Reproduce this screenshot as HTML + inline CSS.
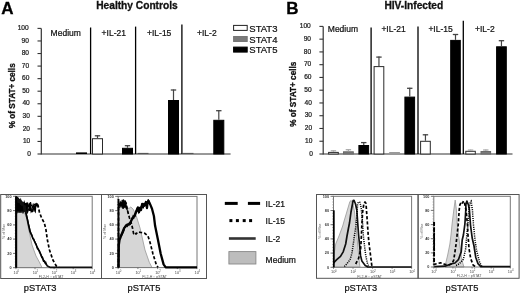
<!DOCTYPE html>
<html><head><meta charset="utf-8"><style>
html,body{margin:0;padding:0;background:#fff;}
body{width:520px;height:294px;overflow:hidden;font-family:"Liberation Sans",sans-serif;}
svg{display:block;filter:blur(0.35px);}
</style></head><body>
<svg width="520" height="294" viewBox="0 0 520 294">
<rect width="520" height="294" fill="#fff"/>
<text stroke="#000" stroke-width="0.3" x="1.2" y="14.2" font-family="Liberation Sans, sans-serif" font-weight="bold" font-size="17" fill="#000">A</text>
<text stroke="#000" stroke-width="0.3" x="286.2" y="14.2" font-family="Liberation Sans, sans-serif" font-weight="bold" font-size="17" fill="#000">B</text>
<text stroke="#111" stroke-width="0.3" x="96.2" y="8.7" font-family="Liberation Sans, sans-serif" font-weight="bold" font-size="10.2" fill="#111">Healthy Controls</text>
<text stroke="#111" stroke-width="0.3" x="384.4" y="8.7" font-family="Liberation Sans, sans-serif" font-weight="bold" font-size="10.2" fill="#111">HIV-Infected</text>
<line x1="41.3" y1="28.4" x2="41.3" y2="154.5" stroke="#333" stroke-width="1.2"/>
<line x1="37.5" y1="154.00" x2="41.3" y2="154.00" stroke="#333" stroke-width="1.1"/>
<text stroke="#1a1a1a" stroke-width="0.22" x="30.90" y="155.70" font-family="Liberation Sans, sans-serif" font-size="6.6" text-anchor="end" fill="#1a1a1a">0</text>
<line x1="37.5" y1="141.44" x2="41.3" y2="141.44" stroke="#333" stroke-width="1.1"/>
<text stroke="#1a1a1a" stroke-width="0.22" x="30.23" y="143.14" font-family="Liberation Sans, sans-serif" font-size="6.6" text-anchor="end" fill="#1a1a1a">10</text>
<line x1="37.5" y1="128.88" x2="41.3" y2="128.88" stroke="#333" stroke-width="1.1"/>
<text stroke="#1a1a1a" stroke-width="0.22" x="30.06" y="130.58" font-family="Liberation Sans, sans-serif" font-size="6.6" text-anchor="end" fill="#1a1a1a">20</text>
<line x1="37.5" y1="116.32" x2="41.3" y2="116.32" stroke="#333" stroke-width="1.1"/>
<text stroke="#1a1a1a" stroke-width="0.22" x="29.89" y="118.02" font-family="Liberation Sans, sans-serif" font-size="6.6" text-anchor="end" fill="#1a1a1a">30</text>
<line x1="37.5" y1="103.76" x2="41.3" y2="103.76" stroke="#333" stroke-width="1.1"/>
<text stroke="#1a1a1a" stroke-width="0.22" x="29.72" y="105.46" font-family="Liberation Sans, sans-serif" font-size="6.6" text-anchor="end" fill="#1a1a1a">40</text>
<line x1="37.5" y1="91.20" x2="41.3" y2="91.20" stroke="#333" stroke-width="1.1"/>
<text stroke="#1a1a1a" stroke-width="0.22" x="29.55" y="92.90" font-family="Liberation Sans, sans-serif" font-size="6.6" text-anchor="end" fill="#1a1a1a">50</text>
<line x1="37.5" y1="78.64" x2="41.3" y2="78.64" stroke="#333" stroke-width="1.1"/>
<text stroke="#1a1a1a" stroke-width="0.22" x="29.38" y="80.34" font-family="Liberation Sans, sans-serif" font-size="6.6" text-anchor="end" fill="#1a1a1a">60</text>
<line x1="37.5" y1="66.08" x2="41.3" y2="66.08" stroke="#333" stroke-width="1.1"/>
<text stroke="#1a1a1a" stroke-width="0.22" x="29.21" y="67.78" font-family="Liberation Sans, sans-serif" font-size="6.6" text-anchor="end" fill="#1a1a1a">70</text>
<line x1="37.5" y1="53.52" x2="41.3" y2="53.52" stroke="#333" stroke-width="1.1"/>
<text stroke="#1a1a1a" stroke-width="0.22" x="29.04" y="55.22" font-family="Liberation Sans, sans-serif" font-size="6.6" text-anchor="end" fill="#1a1a1a">80</text>
<line x1="37.5" y1="40.96" x2="41.3" y2="40.96" stroke="#333" stroke-width="1.1"/>
<text stroke="#1a1a1a" stroke-width="0.22" x="28.87" y="42.66" font-family="Liberation Sans, sans-serif" font-size="6.6" text-anchor="end" fill="#1a1a1a">90</text>
<line x1="37.5" y1="28.40" x2="41.3" y2="28.40" stroke="#333" stroke-width="1.1"/>
<text stroke="#1a1a1a" stroke-width="0.22" x="28.70" y="30.10" font-family="Liberation Sans, sans-serif" font-size="6.6" text-anchor="end" fill="#1a1a1a">100</text>
<line x1="41.3" y1="154.0" x2="230.6" y2="154.0" stroke="#333" stroke-width="1.1"/>
<line x1="90.6" y1="27.5" x2="90.6" y2="154.0" stroke="#000" stroke-width="1.3"/>
<line x1="135.6" y1="26.6" x2="135.6" y2="154.0" stroke="#000" stroke-width="1.3"/>
<line x1="181.9" y1="24.5" x2="181.9" y2="154.0" stroke="#000" stroke-width="1.3"/>
<text stroke="#111" stroke-width="0.22" x="50.6" y="36.3" font-family="Liberation Sans, sans-serif" font-size="8.5" fill="#111">Medium</text>
<text stroke="#111" stroke-width="0.22" x="101.6" y="36.3" font-family="Liberation Sans, sans-serif" font-size="8.5" fill="#111">+IL-21</text>
<text stroke="#111" stroke-width="0.22" x="147.0" y="36.3" font-family="Liberation Sans, sans-serif" font-size="8.5" fill="#111">+IL-15</text>
<text stroke="#111" stroke-width="0.22" x="197.0" y="36.3" font-family="Liberation Sans, sans-serif" font-size="8.5" fill="#111">+IL-2</text>
<rect x="76" y="152.4" width="11" height="1.5999999999999943" fill="#000"/>
<rect x="92.5" y="138.7" width="10" height="15.300000000000011" fill="#fff" stroke="#2a2a2a" stroke-width="1"/>
<line x1="97.5" y1="135.3" x2="97.5" y2="138.2" stroke="#444" stroke-width="1.2"/>
<line x1="94.8" y1="135.8" x2="100.2" y2="135.8" stroke="#444" stroke-width="1.3"/>
<rect x="122.5" y="148.3" width="10" height="5.699999999999989" fill="#000" stroke="#000" stroke-width="1"/>
<line x1="127.5" y1="145.2" x2="127.5" y2="147.8" stroke="#444" stroke-width="1.2"/>
<line x1="124.8" y1="145.7" x2="130.2" y2="145.7" stroke="#444" stroke-width="1.3"/>
<rect x="137.5" y="152.9" width="11" height="1.0999999999999943" fill="#555"/>
<rect x="168.5" y="100.5" width="10" height="53.5" fill="#000" stroke="#000" stroke-width="1"/>
<line x1="173.5" y1="89.5" x2="173.5" y2="100.0" stroke="#444" stroke-width="1.2"/>
<line x1="170.8" y1="90.0" x2="176.2" y2="90.0" stroke="#444" stroke-width="1.3"/>
<rect x="183" y="152.9" width="10.5" height="1.0999999999999943" fill="#555"/>
<rect x="197" y="153.3" width="11" height="0.6999999999999886" fill="#9a9a9a"/>
<rect x="213.8" y="120.3" width="10" height="33.7" fill="#000" stroke="#000" stroke-width="1"/>
<line x1="218.8" y1="110.2" x2="218.8" y2="119.8" stroke="#444" stroke-width="1.2"/>
<line x1="216.10000000000002" y1="110.7" x2="221.5" y2="110.7" stroke="#444" stroke-width="1.3"/>
<text stroke="#111" stroke-width="0.3" x="0" y="0" transform="translate(14.6,95.8) rotate(-90)" font-family="Liberation Sans, sans-serif" font-weight="bold" font-size="8.2" text-anchor="middle" fill="#111">% of STAT+ cells</text>
<line x1="323.2" y1="26.4" x2="323.2" y2="154.5" stroke="#333" stroke-width="1.2"/>
<line x1="319.4" y1="154.00" x2="323.2" y2="154.00" stroke="#333" stroke-width="1.1"/>
<text stroke="#1a1a1a" stroke-width="0.22" x="313.00" y="155.70" font-family="Liberation Sans, sans-serif" font-size="6.6" text-anchor="end" fill="#1a1a1a">0</text>
<line x1="319.4" y1="141.24" x2="323.2" y2="141.24" stroke="#333" stroke-width="1.1"/>
<text stroke="#1a1a1a" stroke-width="0.22" x="312.33" y="142.94" font-family="Liberation Sans, sans-serif" font-size="6.6" text-anchor="end" fill="#1a1a1a">10</text>
<line x1="319.4" y1="128.48" x2="323.2" y2="128.48" stroke="#333" stroke-width="1.1"/>
<text stroke="#1a1a1a" stroke-width="0.22" x="312.16" y="130.18" font-family="Liberation Sans, sans-serif" font-size="6.6" text-anchor="end" fill="#1a1a1a">20</text>
<line x1="319.4" y1="115.72" x2="323.2" y2="115.72" stroke="#333" stroke-width="1.1"/>
<text stroke="#1a1a1a" stroke-width="0.22" x="311.99" y="117.42" font-family="Liberation Sans, sans-serif" font-size="6.6" text-anchor="end" fill="#1a1a1a">30</text>
<line x1="319.4" y1="102.96" x2="323.2" y2="102.96" stroke="#333" stroke-width="1.1"/>
<text stroke="#1a1a1a" stroke-width="0.22" x="311.82" y="104.66" font-family="Liberation Sans, sans-serif" font-size="6.6" text-anchor="end" fill="#1a1a1a">40</text>
<line x1="319.4" y1="90.20" x2="323.2" y2="90.20" stroke="#333" stroke-width="1.1"/>
<text stroke="#1a1a1a" stroke-width="0.22" x="311.65" y="91.90" font-family="Liberation Sans, sans-serif" font-size="6.6" text-anchor="end" fill="#1a1a1a">50</text>
<line x1="319.4" y1="77.44" x2="323.2" y2="77.44" stroke="#333" stroke-width="1.1"/>
<text stroke="#1a1a1a" stroke-width="0.22" x="311.48" y="79.14" font-family="Liberation Sans, sans-serif" font-size="6.6" text-anchor="end" fill="#1a1a1a">60</text>
<line x1="319.4" y1="64.68" x2="323.2" y2="64.68" stroke="#333" stroke-width="1.1"/>
<text stroke="#1a1a1a" stroke-width="0.22" x="311.31" y="66.38" font-family="Liberation Sans, sans-serif" font-size="6.6" text-anchor="end" fill="#1a1a1a">70</text>
<line x1="319.4" y1="51.92" x2="323.2" y2="51.92" stroke="#333" stroke-width="1.1"/>
<text stroke="#1a1a1a" stroke-width="0.22" x="311.14" y="53.62" font-family="Liberation Sans, sans-serif" font-size="6.6" text-anchor="end" fill="#1a1a1a">80</text>
<line x1="319.4" y1="39.16" x2="323.2" y2="39.16" stroke="#333" stroke-width="1.1"/>
<text stroke="#1a1a1a" stroke-width="0.22" x="310.97" y="40.86" font-family="Liberation Sans, sans-serif" font-size="6.6" text-anchor="end" fill="#1a1a1a">90</text>
<line x1="319.4" y1="26.40" x2="323.2" y2="26.40" stroke="#333" stroke-width="1.1"/>
<text stroke="#1a1a1a" stroke-width="0.22" x="310.80" y="28.10" font-family="Liberation Sans, sans-serif" font-size="6.6" text-anchor="end" fill="#1a1a1a">100</text>
<line x1="323.2" y1="154.0" x2="512.5" y2="154.0" stroke="#333" stroke-width="1.1"/>
<line x1="371.1" y1="27.6" x2="371.1" y2="154.0" stroke="#000" stroke-width="1.3"/>
<line x1="418.0" y1="26.6" x2="418.0" y2="154.0" stroke="#000" stroke-width="1.3"/>
<line x1="463.3" y1="20.7" x2="463.3" y2="154.0" stroke="#000" stroke-width="1.3"/>
<text stroke="#111" stroke-width="0.22" x="327.8" y="32.2" font-family="Liberation Sans, sans-serif" font-size="8.5" fill="#111">Medium</text>
<text stroke="#111" stroke-width="0.22" x="381.4" y="32.2" font-family="Liberation Sans, sans-serif" font-size="8.5" fill="#111">+IL-21</text>
<text stroke="#111" stroke-width="0.22" x="428.4" y="32.2" font-family="Liberation Sans, sans-serif" font-size="8.5" fill="#111">+IL-15</text>
<text stroke="#111" stroke-width="0.22" x="475.0" y="32.2" font-family="Liberation Sans, sans-serif" font-size="8.5" fill="#111">+IL-2</text>
<rect x="328.6" y="152.4" width="9.7" height="1.5999999999999943" fill="#fff" stroke="#2a2a2a" stroke-width="1"/>
<line x1="333.45000000000005" y1="150.3" x2="333.45000000000005" y2="151.9" stroke="#aaa" stroke-width="1.2"/>
<line x1="330.75000000000006" y1="150.8" x2="336.15000000000003" y2="150.8" stroke="#aaa" stroke-width="1.3"/>
<rect x="343.5" y="151.8" width="9.8" height="2.1999999999999886" fill="#7a7a7a" stroke="#6a6a6a" stroke-width="1"/>
<line x1="348.4" y1="149.2" x2="348.4" y2="151.3" stroke="#aaa" stroke-width="1.2"/>
<line x1="345.7" y1="149.7" x2="351.09999999999997" y2="149.7" stroke="#aaa" stroke-width="1.3"/>
<rect x="358.9" y="145.5" width="9.7" height="8.5" fill="#000" stroke="#000" stroke-width="1"/>
<line x1="363.75" y1="142.1" x2="363.75" y2="145.0" stroke="#444" stroke-width="1.2"/>
<line x1="361.05" y1="142.6" x2="366.45" y2="142.6" stroke="#444" stroke-width="1.3"/>
<rect x="374.1" y="66.6" width="9.7" height="87.4" fill="#fff" stroke="#2a2a2a" stroke-width="1"/>
<line x1="378.95000000000005" y1="56.6" x2="378.95000000000005" y2="66.1" stroke="#444" stroke-width="1.2"/>
<line x1="376.25000000000006" y1="57.1" x2="381.65000000000003" y2="57.1" stroke="#444" stroke-width="1.3"/>
<rect x="389.2" y="152.0" width="10.7" height="2.0" fill="#9a9a9a"/>
<rect x="404.9" y="97.1" width="9.7" height="56.900000000000006" fill="#000" stroke="#000" stroke-width="1"/>
<line x1="409.75" y1="87.8" x2="409.75" y2="96.6" stroke="#444" stroke-width="1.2"/>
<line x1="407.05" y1="88.3" x2="412.45" y2="88.3" stroke="#444" stroke-width="1.3"/>
<rect x="420.6" y="141.3" width="9.7" height="12.699999999999989" fill="#fff" stroke="#2a2a2a" stroke-width="1"/>
<line x1="425.45000000000005" y1="134.3" x2="425.45000000000005" y2="140.8" stroke="#444" stroke-width="1.2"/>
<line x1="422.75000000000006" y1="134.8" x2="428.15000000000003" y2="134.8" stroke="#444" stroke-width="1.3"/>
<rect x="434.9" y="153.0" width="10.7" height="1.0" fill="#9a9a9a"/>
<rect x="450.7" y="40.4" width="9.6" height="113.6" fill="#000" stroke="#000" stroke-width="1"/>
<line x1="455.5" y1="34.0" x2="455.5" y2="39.9" stroke="#444" stroke-width="1.2"/>
<line x1="452.8" y1="34.5" x2="458.2" y2="34.5" stroke="#444" stroke-width="1.3"/>
<rect x="465.8" y="151.3" width="9.5" height="2.6999999999999886" fill="#fff" stroke="#2a2a2a" stroke-width="1"/>
<line x1="470.55" y1="149.6" x2="470.55" y2="150.8" stroke="#aaa" stroke-width="1.2"/>
<line x1="467.85" y1="150.1" x2="473.25" y2="150.1" stroke="#aaa" stroke-width="1.3"/>
<rect x="481.0" y="151.5" width="9.6" height="2.5" fill="#7a7a7a" stroke="#6a6a6a" stroke-width="1"/>
<line x1="485.8" y1="149.5" x2="485.8" y2="151.0" stroke="#aaa" stroke-width="1.2"/>
<line x1="483.1" y1="150.0" x2="488.5" y2="150.0" stroke="#aaa" stroke-width="1.3"/>
<rect x="496.6" y="46.8" width="9.7" height="107.2" fill="#000" stroke="#000" stroke-width="1"/>
<line x1="501.45000000000005" y1="40.2" x2="501.45000000000005" y2="46.3" stroke="#444" stroke-width="1.2"/>
<line x1="498.75000000000006" y1="40.7" x2="504.15000000000003" y2="40.7" stroke="#444" stroke-width="1.3"/>
<text stroke="#111" stroke-width="0.3" x="0" y="0" transform="translate(296.0,94.2) rotate(-90)" font-family="Liberation Sans, sans-serif" font-weight="bold" font-size="8.2" text-anchor="middle" fill="#111">% of STAT+ cells</text>
<rect x="233.6" y="25.4" width="13.6" height="5.0" fill="#fff" stroke="#222" stroke-width="1"/>
<text stroke="#111" stroke-width="0.22" x="249.3" y="31.5" font-family="Liberation Sans, sans-serif" font-size="9.5" fill="#111">STAT3</text>
<rect x="233.6" y="36.5" width="13.6" height="5.0" fill="#7a7a7a" stroke="#777" stroke-width="1"/>
<text stroke="#111" stroke-width="0.22" x="249.3" y="42.6" font-family="Liberation Sans, sans-serif" font-size="9.5" fill="#111">STAT4</text>
<rect x="233.6" y="47.1" width="13.6" height="5.0" fill="#000" stroke="#000" stroke-width="1"/>
<text stroke="#111" stroke-width="0.22" x="249.3" y="53.2" font-family="Liberation Sans, sans-serif" font-size="9.5" fill="#111">STAT5</text>
<rect x="0.7" y="194.5" width="100.8" height="84" fill="none" stroke="#555" stroke-width="1"/>
<polygon points="16.5,267.5 16.5,205.0 20.0,208.0 24.0,212.0 26.5,218.0 28.0,226.0 32.0,245.0 36.0,256.0 39.3,262.0 42.0,267.5" fill="#d6d6d6" stroke="#a0a0a0" stroke-width="0.9"/>
<rect x="16" y="196.3" width="76.2" height="71.39999999999998" fill="none" stroke="#777" stroke-width="1"/>
<line x1="14.7" y1="267.7" x2="16" y2="267.7" stroke="#888" stroke-width="0.6"/>
<line x1="14.7" y1="264.8" x2="16" y2="264.8" stroke="#888" stroke-width="0.6"/>
<line x1="14.7" y1="262.0" x2="16" y2="262.0" stroke="#888" stroke-width="0.6"/>
<line x1="14.7" y1="259.1" x2="16" y2="259.1" stroke="#888" stroke-width="0.6"/>
<line x1="14.7" y1="256.3" x2="16" y2="256.3" stroke="#888" stroke-width="0.6"/>
<line x1="14.7" y1="253.4" x2="16" y2="253.4" stroke="#888" stroke-width="0.6"/>
<line x1="14.7" y1="250.6" x2="16" y2="250.6" stroke="#888" stroke-width="0.6"/>
<line x1="14.7" y1="247.7" x2="16" y2="247.7" stroke="#888" stroke-width="0.6"/>
<line x1="14.7" y1="244.9" x2="16" y2="244.9" stroke="#888" stroke-width="0.6"/>
<line x1="14.7" y1="242.0" x2="16" y2="242.0" stroke="#888" stroke-width="0.6"/>
<line x1="14.7" y1="239.1" x2="16" y2="239.1" stroke="#888" stroke-width="0.6"/>
<line x1="14.7" y1="236.3" x2="16" y2="236.3" stroke="#888" stroke-width="0.6"/>
<line x1="14.7" y1="233.4" x2="16" y2="233.4" stroke="#888" stroke-width="0.6"/>
<line x1="14.7" y1="230.6" x2="16" y2="230.6" stroke="#888" stroke-width="0.6"/>
<line x1="14.7" y1="227.7" x2="16" y2="227.7" stroke="#888" stroke-width="0.6"/>
<line x1="14.7" y1="224.9" x2="16" y2="224.9" stroke="#888" stroke-width="0.6"/>
<line x1="14.7" y1="222.0" x2="16" y2="222.0" stroke="#888" stroke-width="0.6"/>
<line x1="14.7" y1="219.1" x2="16" y2="219.1" stroke="#888" stroke-width="0.6"/>
<line x1="14.7" y1="216.3" x2="16" y2="216.3" stroke="#888" stroke-width="0.6"/>
<line x1="14.7" y1="213.4" x2="16" y2="213.4" stroke="#888" stroke-width="0.6"/>
<line x1="14.7" y1="210.6" x2="16" y2="210.6" stroke="#888" stroke-width="0.6"/>
<line x1="14.7" y1="207.7" x2="16" y2="207.7" stroke="#888" stroke-width="0.6"/>
<line x1="14.7" y1="204.9" x2="16" y2="204.9" stroke="#888" stroke-width="0.6"/>
<line x1="14.7" y1="202.0" x2="16" y2="202.0" stroke="#888" stroke-width="0.6"/>
<line x1="14.7" y1="199.2" x2="16" y2="199.2" stroke="#888" stroke-width="0.6"/>
<line x1="14.7" y1="196.3" x2="16" y2="196.3" stroke="#888" stroke-width="0.6"/>
<text x="11.6" y="269.0" font-family="Liberation Sans, sans-serif" font-size="3.8" font-weight="bold" text-anchor="end" fill="#333">0</text>
<line x1="13" y1="267.7" x2="16" y2="267.7" stroke="#666" stroke-width="0.9"/>
<text x="11.6" y="254.7" font-family="Liberation Sans, sans-serif" font-size="3.8" font-weight="bold" text-anchor="end" fill="#333">20</text>
<line x1="13" y1="253.4" x2="16" y2="253.4" stroke="#666" stroke-width="0.9"/>
<text x="11.6" y="240.4" font-family="Liberation Sans, sans-serif" font-size="3.8" font-weight="bold" text-anchor="end" fill="#333">40</text>
<line x1="13" y1="239.1" x2="16" y2="239.1" stroke="#666" stroke-width="0.9"/>
<text x="11.6" y="226.2" font-family="Liberation Sans, sans-serif" font-size="3.8" font-weight="bold" text-anchor="end" fill="#333">60</text>
<line x1="13" y1="224.9" x2="16" y2="224.9" stroke="#666" stroke-width="0.9"/>
<text x="11.6" y="211.9" font-family="Liberation Sans, sans-serif" font-size="3.8" font-weight="bold" text-anchor="end" fill="#333">80</text>
<line x1="13" y1="210.6" x2="16" y2="210.6" stroke="#666" stroke-width="0.9"/>
<text x="11.6" y="197.6" font-family="Liberation Sans, sans-serif" font-size="3.8" font-weight="bold" text-anchor="end" fill="#333">100</text>
<line x1="13" y1="196.3" x2="16" y2="196.3" stroke="#666" stroke-width="0.9"/>
<line x1="16.0" y1="267.7" x2="16.0" y2="269.2" stroke="#666" stroke-width="0.8"/>
<text x="15.7" y="273.7" font-family="Liberation Sans, sans-serif" font-size="3.9" text-anchor="middle" fill="#444">10</text>
<text x="17.6" y="271.9" font-family="Liberation Sans, sans-serif" font-size="2.8" fill="#555">0</text>
<line x1="35.0" y1="267.7" x2="35.0" y2="269.2" stroke="#666" stroke-width="0.8"/>
<text x="34.8" y="273.7" font-family="Liberation Sans, sans-serif" font-size="3.9" text-anchor="middle" fill="#444">10</text>
<text x="36.6" y="271.9" font-family="Liberation Sans, sans-serif" font-size="2.8" fill="#555">1</text>
<line x1="54.1" y1="267.7" x2="54.1" y2="269.2" stroke="#666" stroke-width="0.8"/>
<text x="53.8" y="273.7" font-family="Liberation Sans, sans-serif" font-size="3.9" text-anchor="middle" fill="#444">10</text>
<text x="55.7" y="271.9" font-family="Liberation Sans, sans-serif" font-size="2.8" fill="#555">2</text>
<line x1="73.2" y1="267.7" x2="73.2" y2="269.2" stroke="#666" stroke-width="0.8"/>
<text x="72.9" y="273.7" font-family="Liberation Sans, sans-serif" font-size="3.9" text-anchor="middle" fill="#444">10</text>
<text x="74.8" y="271.9" font-family="Liberation Sans, sans-serif" font-size="2.8" fill="#555">3</text>
<line x1="92.2" y1="267.7" x2="92.2" y2="269.2" stroke="#666" stroke-width="0.8"/>
<text x="91.9" y="273.7" font-family="Liberation Sans, sans-serif" font-size="3.9" text-anchor="middle" fill="#444">10</text>
<text x="93.8" y="271.9" font-family="Liberation Sans, sans-serif" font-size="2.8" fill="#555">4</text>
<text x="51.1" y="278.1" font-family="Liberation Sans, sans-serif" font-size="3.6" text-anchor="middle" fill="#555">FL2-H :: pSTAT</text>
<text x="0" y="0" transform="translate(5.2,231.5) rotate(-90)" font-family="Liberation Sans, sans-serif" font-size="3.6" text-anchor="middle" fill="#666">% of Max</text>
<polygon points="16.0,196.6 18.0,198.0 20.0,200.0 22.0,201.5 24.0,203.0 26.0,203.5 27.0,205.0 27.5,208.0 27.0,211.0 26.0,213.5 25.0,212.0 24.0,211.0 23.0,213.5 22.0,211.0 21.0,213.0 20.0,211.5 19.0,213.0 18.0,211.0 17.0,213.5 16.0,213.0" fill="#000" stroke="#000" stroke-width="0.6"/>
<polyline points="16.0,198.0 16.5,204.1 17.2,199.8 17.9,201.5 18.6,203.4 19.3,200.4 20.0,202.2 20.7,200.0 21.4,203.5 22.1,204.1 22.8,203.2 23.5,205.0 24.2,202.2 24.9,204.3 25.6,203.9 26.3,204.0 27.0,203.5 27.7,205.6 28.4,206.3 29.1,204.0 29.8,205.1 30.5,202.1 31.2,205.6 31.9,205.4 32.6,207.4 33.3,206.6 34.0,204.0 34.7,204.6 35.4,206.3 36.1,203.0 36.8,205.5 37.5,204.1 37.8,204.4" fill="none" stroke="#000" stroke-width="1.2" stroke-linejoin="miter"/>
<polyline points="26.0,204.0 26.6,203.4 27.1,210.0 27.7,204.1 28.2,205.2 28.8,206.5 29.3,210.9 29.9,203.6 30.4,207.0 31.0,208.0 31.5,211.0 32.1,210.4 32.6,210.8 33.1,205.5 33.7,206.7 34.2,206.2 34.8,211.0 35.3,211.7 35.9,204.3 36.4,204.5 37.0,205.0 37.5,205.0 38.1,207.4" fill="none" stroke="#000" stroke-width="1.2" stroke-linejoin="miter"/>
<polyline points="24.0,209.6 24.6,207.3 25.2,205.5 25.8,208.4 26.4,208.1 27.0,209.5 27.6,212.2 28.2,210.3 28.8,209.1 29.4,209.8 30.0,210.2 30.6,205.9 31.2,211.8 31.8,211.0 32.4,211.6 33.0,211.1 33.6,208.2 34.2,208.3 34.8,206.2 35.4,209.9" fill="none" stroke="#000" stroke-width="1.2" stroke-linejoin="miter"/>
<polyline points="16.0,267.5 16.0,197.0 16.5,198.2 17.1,197.6 17.7,202.0 18.3,198.3 18.9,202.5 19.5,201.8 20.1,200.2 20.7,204.2 21.3,201.3 21.9,205.0 22.5,202.9 23.1,203.7 23.7,206.9 24.3,210.6 24.9,205.9 25.8,213.0 27.4,219.6 29.0,227.2 30.1,232.0 31.5,235.0 33.8,240.0 38.6,250.0 43.3,260.0 47.4,266.0 50.0,267.3 92.0,267.3" fill="none" stroke="#111" stroke-width="1.7" stroke-linejoin="round"/>
<polyline points="26.0,212.7 26.6,215.2 27.2,218.0 27.8,220.6 28.4,223.9 29.0,226.0 29.6,228.5 30.2,231.3 30.8,232.5 31.4,234.4 32.0,234.9 32.6,238.4 33.2,239.0 33.8,239.1 34.4,240.6 35.0,242.1 35.6,243.4 36.2,244.0 36.8,247.2 37.4,248.8 38.0,248.7 38.6,250.0 39.2,250.2 39.8,251.5 40.4,253.4 41.0,254.5 41.6,257.2 42.2,256.8 42.8,257.7 43.4,261.3 44.0,261.1 44.6,261.0 45.2,262.9 45.8,262.4 46.4,264.6" fill="none" stroke="#000" stroke-width="1.2" stroke-linejoin="miter"/>
<polyline points="37.8,204.4 39.4,212.0 41.6,218.0 44.3,222.9 45.9,229.4 47.4,240.0 49.5,250.0 52.9,260.0 56.3,266.0 59.0,267.3" fill="none" stroke="#000" stroke-width="1.7" stroke-dasharray="3.2 2.0" stroke-linejoin="round"/>
<text stroke="#111" stroke-width="0.22" x="23.8" y="290.6" font-family="Liberation Sans, sans-serif" font-size="9.3" fill="#111">pSTAT3</text>
<line x1="16.3" y1="196.5" x2="16.3" y2="267.7" stroke="#000" stroke-width="1.8" />
<rect x="101.5" y="194.5" width="105.0" height="84" fill="none" stroke="#555" stroke-width="1"/>
<polygon points="118.5,267.5 118.5,207.0 127.0,207.5 129.0,208.5 130.8,207.0 133.0,209.0 136.0,215.0 140.0,228.0 145.0,250.0 149.3,262.3 152.0,267.5" fill="#d6d6d6" stroke="#a0a0a0" stroke-width="0.9"/>
<rect x="118.2" y="196.4" width="78.8" height="71.20000000000002" fill="none" stroke="#777" stroke-width="1"/>
<line x1="116.9" y1="267.6" x2="118.2" y2="267.6" stroke="#888" stroke-width="0.6"/>
<line x1="116.9" y1="264.8" x2="118.2" y2="264.8" stroke="#888" stroke-width="0.6"/>
<line x1="116.9" y1="261.9" x2="118.2" y2="261.9" stroke="#888" stroke-width="0.6"/>
<line x1="116.9" y1="259.1" x2="118.2" y2="259.1" stroke="#888" stroke-width="0.6"/>
<line x1="116.9" y1="256.2" x2="118.2" y2="256.2" stroke="#888" stroke-width="0.6"/>
<line x1="116.9" y1="253.4" x2="118.2" y2="253.4" stroke="#888" stroke-width="0.6"/>
<line x1="116.9" y1="250.5" x2="118.2" y2="250.5" stroke="#888" stroke-width="0.6"/>
<line x1="116.9" y1="247.7" x2="118.2" y2="247.7" stroke="#888" stroke-width="0.6"/>
<line x1="116.9" y1="244.8" x2="118.2" y2="244.8" stroke="#888" stroke-width="0.6"/>
<line x1="116.9" y1="242.0" x2="118.2" y2="242.0" stroke="#888" stroke-width="0.6"/>
<line x1="116.9" y1="239.1" x2="118.2" y2="239.1" stroke="#888" stroke-width="0.6"/>
<line x1="116.9" y1="236.3" x2="118.2" y2="236.3" stroke="#888" stroke-width="0.6"/>
<line x1="116.9" y1="233.4" x2="118.2" y2="233.4" stroke="#888" stroke-width="0.6"/>
<line x1="116.9" y1="230.6" x2="118.2" y2="230.6" stroke="#888" stroke-width="0.6"/>
<line x1="116.9" y1="227.7" x2="118.2" y2="227.7" stroke="#888" stroke-width="0.6"/>
<line x1="116.9" y1="224.9" x2="118.2" y2="224.9" stroke="#888" stroke-width="0.6"/>
<line x1="116.9" y1="222.0" x2="118.2" y2="222.0" stroke="#888" stroke-width="0.6"/>
<line x1="116.9" y1="219.2" x2="118.2" y2="219.2" stroke="#888" stroke-width="0.6"/>
<line x1="116.9" y1="216.3" x2="118.2" y2="216.3" stroke="#888" stroke-width="0.6"/>
<line x1="116.9" y1="213.5" x2="118.2" y2="213.5" stroke="#888" stroke-width="0.6"/>
<line x1="116.9" y1="210.6" x2="118.2" y2="210.6" stroke="#888" stroke-width="0.6"/>
<line x1="116.9" y1="207.8" x2="118.2" y2="207.8" stroke="#888" stroke-width="0.6"/>
<line x1="116.9" y1="204.9" x2="118.2" y2="204.9" stroke="#888" stroke-width="0.6"/>
<line x1="116.9" y1="202.1" x2="118.2" y2="202.1" stroke="#888" stroke-width="0.6"/>
<line x1="116.9" y1="199.2" x2="118.2" y2="199.2" stroke="#888" stroke-width="0.6"/>
<line x1="116.9" y1="196.4" x2="118.2" y2="196.4" stroke="#888" stroke-width="0.6"/>
<text x="113.8" y="268.9" font-family="Liberation Sans, sans-serif" font-size="3.8" font-weight="bold" text-anchor="end" fill="#333">0</text>
<line x1="115.2" y1="267.6" x2="118.2" y2="267.6" stroke="#666" stroke-width="0.9"/>
<text x="113.8" y="254.7" font-family="Liberation Sans, sans-serif" font-size="3.8" font-weight="bold" text-anchor="end" fill="#333">20</text>
<line x1="115.2" y1="253.4" x2="118.2" y2="253.4" stroke="#666" stroke-width="0.9"/>
<text x="113.8" y="240.4" font-family="Liberation Sans, sans-serif" font-size="3.8" font-weight="bold" text-anchor="end" fill="#333">40</text>
<line x1="115.2" y1="239.1" x2="118.2" y2="239.1" stroke="#666" stroke-width="0.9"/>
<text x="113.8" y="226.2" font-family="Liberation Sans, sans-serif" font-size="3.8" font-weight="bold" text-anchor="end" fill="#333">60</text>
<line x1="115.2" y1="224.9" x2="118.2" y2="224.9" stroke="#666" stroke-width="0.9"/>
<text x="113.8" y="211.9" font-family="Liberation Sans, sans-serif" font-size="3.8" font-weight="bold" text-anchor="end" fill="#333">80</text>
<line x1="115.2" y1="210.6" x2="118.2" y2="210.6" stroke="#666" stroke-width="0.9"/>
<text x="113.8" y="197.7" font-family="Liberation Sans, sans-serif" font-size="3.8" font-weight="bold" text-anchor="end" fill="#333">100</text>
<line x1="115.2" y1="196.4" x2="118.2" y2="196.4" stroke="#666" stroke-width="0.9"/>
<line x1="118.2" y1="267.6" x2="118.2" y2="269.1" stroke="#666" stroke-width="0.8"/>
<text x="117.9" y="273.6" font-family="Liberation Sans, sans-serif" font-size="3.9" text-anchor="middle" fill="#444">10</text>
<text x="119.8" y="271.8" font-family="Liberation Sans, sans-serif" font-size="2.8" fill="#555">0</text>
<line x1="137.9" y1="267.6" x2="137.9" y2="269.1" stroke="#666" stroke-width="0.8"/>
<text x="137.6" y="273.6" font-family="Liberation Sans, sans-serif" font-size="3.9" text-anchor="middle" fill="#444">10</text>
<text x="139.5" y="271.8" font-family="Liberation Sans, sans-serif" font-size="2.8" fill="#555">1</text>
<line x1="157.6" y1="267.6" x2="157.6" y2="269.1" stroke="#666" stroke-width="0.8"/>
<text x="157.3" y="273.6" font-family="Liberation Sans, sans-serif" font-size="3.9" text-anchor="middle" fill="#444">10</text>
<text x="159.2" y="271.8" font-family="Liberation Sans, sans-serif" font-size="2.8" fill="#555">2</text>
<line x1="177.3" y1="267.6" x2="177.3" y2="269.1" stroke="#666" stroke-width="0.8"/>
<text x="177.0" y="273.6" font-family="Liberation Sans, sans-serif" font-size="3.9" text-anchor="middle" fill="#444">10</text>
<text x="178.9" y="271.8" font-family="Liberation Sans, sans-serif" font-size="2.8" fill="#555">3</text>
<line x1="197.0" y1="267.6" x2="197.0" y2="269.1" stroke="#666" stroke-width="0.8"/>
<text x="196.7" y="273.6" font-family="Liberation Sans, sans-serif" font-size="3.9" text-anchor="middle" fill="#444">10</text>
<text x="198.6" y="271.8" font-family="Liberation Sans, sans-serif" font-size="2.8" fill="#555">4</text>
<text x="154.6" y="278.0" font-family="Liberation Sans, sans-serif" font-size="3.6" text-anchor="middle" fill="#555">FL2-H :: pSTAT</text>
<text x="0" y="0" transform="translate(106.0,231.5) rotate(-90)" font-family="Liberation Sans, sans-serif" font-size="3.6" text-anchor="middle" fill="#666">% of Max</text>
<polygon points="118.5,200.0 118.5,204.6 120.1,203.8 121.4,202.2 122.0,205.0 122.6,201.0 123.4,200.1 124.2,201.5 125.0,200.5 125.9,203.8 126.7,206.3 127.5,210.4 128.3,213.6 127.0,210.0 125.0,207.0 123.0,209.0 121.0,206.0 119.5,208.0" fill="#000" stroke="#000" stroke-width="0.6"/>
<polyline points="119.0,206.0 119.4,205.4 119.8,204.5 120.2,202.3 120.6,202.8 121.0,201.8 121.4,204.9 121.8,203.7 122.2,205.0 122.6,202.6 123.0,202.1 123.4,205.1 123.8,206.0 124.2,205.3 124.6,205.1 125.0,205.2 125.4,204.7 125.8,202.1 126.2,203.6 126.6,202.7" fill="none" stroke="#000" stroke-width="1.2" stroke-linejoin="miter"/>
<polyline points="118.5,267.5 118.5,204.6 118.5,204.6 120.1,203.8 121.4,202.2 122.0,205.0 122.6,201.0 123.4,200.1 124.2,201.5 125.0,200.5 125.9,203.8 126.7,206.3 127.5,210.4 128.3,213.6 129.5,218.0 131.0,222.0 132.5,228.0 133.6,233.7 135.0,232.5 136.0,234.0 138.0,232.0 141.0,232.5 144.3,233.0 147.9,235.9 150.0,242.3 152.9,253.7 156.4,265.1 158.0,267.3" fill="none" stroke="#000" stroke-width="1.7" stroke-dasharray="3.2 2.0" stroke-linejoin="round"/>
<polyline points="118.5,267.3 118.8,245.0 119.5,240.0 121.0,236.0 124.2,228.0 127.0,225.0 130.0,223.4 132.0,219.0 134.9,214.8 136.5,211.0 138.0,207.5 139.0,212.0 140.0,208.0 141.0,210.0 142.2,203.8 143.0,207.0 144.0,204.0 145.0,205.0 145.9,202.0 147.0,208.0 147.5,203.0 148.4,200.7 149.3,202.5 150.2,204.4 152.0,208.7 153.9,216.0 155.1,225.8 157.9,239.4 160.7,253.7 163.6,264.4 165.7,267.3 197.0,267.3" fill="none" stroke="#000" stroke-width="2.3" stroke-linejoin="round"/>
<polyline points="120.0,236.8 120.5,235.6 120.9,235.4 121.4,234.2 121.8,234.8 122.3,234.7 122.7,231.5 123.2,232.4 123.6,231.5 124.1,230.2 124.5,227.1 125.0,226.1 125.4,225.6 125.9,225.0 126.3,224.6 126.8,225.8 127.2,226.5 127.7,226.0 128.1,224.3 128.6,224.8 129.0,225.1 129.5,222.0 129.9,224.1 130.3,224.3 130.8,222.8 131.2,221.7 131.7,219.6 132.1,217.5 132.6,219.3 133.0,216.8 133.5,218.0 133.9,218.1 134.4,215.1 134.8,214.5 135.3,215.6 135.7,213.7 136.2,210.4 136.6,209.2 137.1,208.2 137.5,210.2 138.0,208.7 138.4,208.1 138.9,212.9 139.3,212.5 139.8,209.4 140.2,207.9 140.7,209.6 141.1,207.7 141.6,205.0 142.0,206.5 142.5,205.6 142.9,206.9 143.4,207.5 143.8,204.2 144.3,205.8 144.7,206.1 145.2,203.2 145.6,201.8 146.1,202.3 146.5,204.5 147.0,208.3 147.4,202.5 147.9,201.7 148.3,199.4 148.8,203.1 149.2,201.8 149.7,203.2" fill="none" stroke="#000" stroke-width="1.2" stroke-linejoin="miter"/>
<text stroke="#111" stroke-width="0.22" x="127.6" y="290.6" font-family="Liberation Sans, sans-serif" font-size="9.3" fill="#111">pSTAT5</text>
<line x1="118.5" y1="199" x2="118.5" y2="267.6" stroke="#000" stroke-width="1.8" />
<rect x="316.5" y="194.5" width="101.60000000000002" height="83.80000000000001" fill="none" stroke="#555" stroke-width="1"/>
<polygon points="333.8,267.0 333.8,256.0 335.7,244.0 339.0,236.0 342.7,226.0 344.4,220.0 347.4,210.0 349.9,201.5 351.2,200.5 353.0,204.0 354.5,212.0 356.0,226.0 357.6,244.0 359.5,264.0 360.0,267.0" fill="#d6d6d6" stroke="#a0a0a0" stroke-width="0.9"/>
<rect x="333.5" y="196.3" width="78.10000000000002" height="71.0" fill="none" stroke="#777" stroke-width="1"/>
<line x1="332.2" y1="267.3" x2="333.5" y2="267.3" stroke="#888" stroke-width="0.6"/>
<line x1="332.2" y1="264.5" x2="333.5" y2="264.5" stroke="#888" stroke-width="0.6"/>
<line x1="332.2" y1="261.6" x2="333.5" y2="261.6" stroke="#888" stroke-width="0.6"/>
<line x1="332.2" y1="258.8" x2="333.5" y2="258.8" stroke="#888" stroke-width="0.6"/>
<line x1="332.2" y1="255.9" x2="333.5" y2="255.9" stroke="#888" stroke-width="0.6"/>
<line x1="332.2" y1="253.1" x2="333.5" y2="253.1" stroke="#888" stroke-width="0.6"/>
<line x1="332.2" y1="250.3" x2="333.5" y2="250.3" stroke="#888" stroke-width="0.6"/>
<line x1="332.2" y1="247.4" x2="333.5" y2="247.4" stroke="#888" stroke-width="0.6"/>
<line x1="332.2" y1="244.6" x2="333.5" y2="244.6" stroke="#888" stroke-width="0.6"/>
<line x1="332.2" y1="241.7" x2="333.5" y2="241.7" stroke="#888" stroke-width="0.6"/>
<line x1="332.2" y1="238.9" x2="333.5" y2="238.9" stroke="#888" stroke-width="0.6"/>
<line x1="332.2" y1="236.1" x2="333.5" y2="236.1" stroke="#888" stroke-width="0.6"/>
<line x1="332.2" y1="233.2" x2="333.5" y2="233.2" stroke="#888" stroke-width="0.6"/>
<line x1="332.2" y1="230.4" x2="333.5" y2="230.4" stroke="#888" stroke-width="0.6"/>
<line x1="332.2" y1="227.5" x2="333.5" y2="227.5" stroke="#888" stroke-width="0.6"/>
<line x1="332.2" y1="224.7" x2="333.5" y2="224.7" stroke="#888" stroke-width="0.6"/>
<line x1="332.2" y1="221.9" x2="333.5" y2="221.9" stroke="#888" stroke-width="0.6"/>
<line x1="332.2" y1="219.0" x2="333.5" y2="219.0" stroke="#888" stroke-width="0.6"/>
<line x1="332.2" y1="216.2" x2="333.5" y2="216.2" stroke="#888" stroke-width="0.6"/>
<line x1="332.2" y1="213.3" x2="333.5" y2="213.3" stroke="#888" stroke-width="0.6"/>
<line x1="332.2" y1="210.5" x2="333.5" y2="210.5" stroke="#888" stroke-width="0.6"/>
<line x1="332.2" y1="207.7" x2="333.5" y2="207.7" stroke="#888" stroke-width="0.6"/>
<line x1="332.2" y1="204.8" x2="333.5" y2="204.8" stroke="#888" stroke-width="0.6"/>
<line x1="332.2" y1="202.0" x2="333.5" y2="202.0" stroke="#888" stroke-width="0.6"/>
<line x1="332.2" y1="199.1" x2="333.5" y2="199.1" stroke="#888" stroke-width="0.6"/>
<line x1="332.2" y1="196.3" x2="333.5" y2="196.3" stroke="#888" stroke-width="0.6"/>
<text x="329.1" y="268.6" font-family="Liberation Sans, sans-serif" font-size="3.8" font-weight="bold" text-anchor="end" fill="#333">0</text>
<line x1="330.5" y1="267.3" x2="333.5" y2="267.3" stroke="#666" stroke-width="0.9"/>
<text x="329.1" y="254.4" font-family="Liberation Sans, sans-serif" font-size="3.8" font-weight="bold" text-anchor="end" fill="#333">20</text>
<line x1="330.5" y1="253.1" x2="333.5" y2="253.1" stroke="#666" stroke-width="0.9"/>
<text x="329.1" y="240.2" font-family="Liberation Sans, sans-serif" font-size="3.8" font-weight="bold" text-anchor="end" fill="#333">40</text>
<line x1="330.5" y1="238.9" x2="333.5" y2="238.9" stroke="#666" stroke-width="0.9"/>
<text x="329.1" y="226.0" font-family="Liberation Sans, sans-serif" font-size="3.8" font-weight="bold" text-anchor="end" fill="#333">60</text>
<line x1="330.5" y1="224.7" x2="333.5" y2="224.7" stroke="#666" stroke-width="0.9"/>
<text x="329.1" y="211.8" font-family="Liberation Sans, sans-serif" font-size="3.8" font-weight="bold" text-anchor="end" fill="#333">80</text>
<line x1="330.5" y1="210.5" x2="333.5" y2="210.5" stroke="#666" stroke-width="0.9"/>
<text x="329.1" y="197.6" font-family="Liberation Sans, sans-serif" font-size="3.8" font-weight="bold" text-anchor="end" fill="#333">100</text>
<line x1="330.5" y1="196.3" x2="333.5" y2="196.3" stroke="#666" stroke-width="0.9"/>
<line x1="333.5" y1="267.3" x2="333.5" y2="268.8" stroke="#666" stroke-width="0.8"/>
<text x="333.2" y="273.3" font-family="Liberation Sans, sans-serif" font-size="3.9" text-anchor="middle" fill="#444">10</text>
<text x="335.1" y="271.5" font-family="Liberation Sans, sans-serif" font-size="2.8" fill="#555">0</text>
<line x1="353.0" y1="267.3" x2="353.0" y2="268.8" stroke="#666" stroke-width="0.8"/>
<text x="352.7" y="273.3" font-family="Liberation Sans, sans-serif" font-size="3.9" text-anchor="middle" fill="#444">10</text>
<text x="354.6" y="271.5" font-family="Liberation Sans, sans-serif" font-size="2.8" fill="#555">1</text>
<line x1="372.6" y1="267.3" x2="372.6" y2="268.8" stroke="#666" stroke-width="0.8"/>
<text x="372.2" y="273.3" font-family="Liberation Sans, sans-serif" font-size="3.9" text-anchor="middle" fill="#444">10</text>
<text x="374.2" y="271.5" font-family="Liberation Sans, sans-serif" font-size="2.8" fill="#555">2</text>
<line x1="392.1" y1="267.3" x2="392.1" y2="268.8" stroke="#666" stroke-width="0.8"/>
<text x="391.8" y="273.3" font-family="Liberation Sans, sans-serif" font-size="3.9" text-anchor="middle" fill="#444">10</text>
<text x="393.7" y="271.5" font-family="Liberation Sans, sans-serif" font-size="2.8" fill="#555">3</text>
<line x1="411.6" y1="267.3" x2="411.6" y2="268.8" stroke="#666" stroke-width="0.8"/>
<text x="411.3" y="273.3" font-family="Liberation Sans, sans-serif" font-size="3.9" text-anchor="middle" fill="#444">10</text>
<text x="413.2" y="271.5" font-family="Liberation Sans, sans-serif" font-size="2.8" fill="#555">4</text>
<text x="369.6" y="277.7" font-family="Liberation Sans, sans-serif" font-size="3.6" text-anchor="middle" fill="#555">FL2-H :: pSTAT</text>
<text x="0" y="0" transform="translate(321.0,231.3) rotate(-90)" font-family="Liberation Sans, sans-serif" font-size="3.6" text-anchor="middle" fill="#666">% of Max</text>
<polyline points="333.8,263.0 334.8,261.6 336.7,259.7 340.5,256.4 343.3,251.6 345.7,244.0 347.0,236.0 348.5,228.0 349.5,223.0 351.0,212.0 353.1,200.6 354.0,200.3 355.5,204.0 356.8,210.0 357.7,223.0 358.6,235.0 359.5,244.0 360.5,255.4 361.9,261.1 365.2,265.4 368.0,267.0 411.5,267.0" fill="none" stroke="#111" stroke-width="1.7" stroke-linejoin="round"/>
<polyline points="344.3,266.5 346.7,264.0 350.0,259.7 351.9,253.5 353.3,244.0 354.5,235.0 356.0,226.0 357.0,214.0 357.6,204.0 358.5,202.0 360.0,202.4 361.2,208.0 361.9,215.0 362.6,223.0 363.3,235.0 364.3,244.0 365.7,255.4 367.6,264.0 369.0,266.5" fill="none" stroke="#000" stroke-width="1.5" stroke-dasharray="1.1 1.1"/>
<polyline points="355.7,264.0 358.6,258.3 360.5,250.7 361.2,240.0 361.8,226.0 362.6,212.0 364.0,203.0 365.0,202.0 366.0,203.5 366.6,212.0 367.4,223.0 368.2,235.0 369.2,245.0 370.5,255.0 371.7,265.0 373.0,266.8" fill="none" stroke="#000" stroke-width="1.7" stroke-dasharray="3.2 2.0" stroke-linejoin="round"/>
<text stroke="#111" stroke-width="0.22" x="344.4" y="290.6" font-family="Liberation Sans, sans-serif" font-size="9.3" fill="#111">pSTAT3</text>
<line x1="333.8" y1="210.3" x2="333.8" y2="267.3" stroke="#000" stroke-width="1.8" />
<rect x="418.1" y="194.5" width="101.0" height="83.80000000000001" fill="none" stroke="#555" stroke-width="1"/>
<polygon points="445.0,267.0 445.1,266.0 447.7,255.0 449.9,244.0 451.0,235.0 452.1,224.0 453.8,210.0 455.2,200.1 456.4,210.0 457.2,224.0 458.5,235.0 460.2,248.0 461.5,258.0 463.0,264.0 464.0,267.0" fill="#d6d6d6" stroke="#a0a0a0" stroke-width="0.9"/>
<rect x="433.8" y="196.3" width="76.5" height="70.69999999999999" fill="none" stroke="#777" stroke-width="1"/>
<line x1="432.5" y1="267.0" x2="433.8" y2="267.0" stroke="#888" stroke-width="0.6"/>
<line x1="432.5" y1="264.2" x2="433.8" y2="264.2" stroke="#888" stroke-width="0.6"/>
<line x1="432.5" y1="261.3" x2="433.8" y2="261.3" stroke="#888" stroke-width="0.6"/>
<line x1="432.5" y1="258.5" x2="433.8" y2="258.5" stroke="#888" stroke-width="0.6"/>
<line x1="432.5" y1="255.7" x2="433.8" y2="255.7" stroke="#888" stroke-width="0.6"/>
<line x1="432.5" y1="252.9" x2="433.8" y2="252.9" stroke="#888" stroke-width="0.6"/>
<line x1="432.5" y1="250.0" x2="433.8" y2="250.0" stroke="#888" stroke-width="0.6"/>
<line x1="432.5" y1="247.2" x2="433.8" y2="247.2" stroke="#888" stroke-width="0.6"/>
<line x1="432.5" y1="244.4" x2="433.8" y2="244.4" stroke="#888" stroke-width="0.6"/>
<line x1="432.5" y1="241.5" x2="433.8" y2="241.5" stroke="#888" stroke-width="0.6"/>
<line x1="432.5" y1="238.7" x2="433.8" y2="238.7" stroke="#888" stroke-width="0.6"/>
<line x1="432.5" y1="235.9" x2="433.8" y2="235.9" stroke="#888" stroke-width="0.6"/>
<line x1="432.5" y1="233.1" x2="433.8" y2="233.1" stroke="#888" stroke-width="0.6"/>
<line x1="432.5" y1="230.2" x2="433.8" y2="230.2" stroke="#888" stroke-width="0.6"/>
<line x1="432.5" y1="227.4" x2="433.8" y2="227.4" stroke="#888" stroke-width="0.6"/>
<line x1="432.5" y1="224.6" x2="433.8" y2="224.6" stroke="#888" stroke-width="0.6"/>
<line x1="432.5" y1="221.8" x2="433.8" y2="221.8" stroke="#888" stroke-width="0.6"/>
<line x1="432.5" y1="218.9" x2="433.8" y2="218.9" stroke="#888" stroke-width="0.6"/>
<line x1="432.5" y1="216.1" x2="433.8" y2="216.1" stroke="#888" stroke-width="0.6"/>
<line x1="432.5" y1="213.3" x2="433.8" y2="213.3" stroke="#888" stroke-width="0.6"/>
<line x1="432.5" y1="210.4" x2="433.8" y2="210.4" stroke="#888" stroke-width="0.6"/>
<line x1="432.5" y1="207.6" x2="433.8" y2="207.6" stroke="#888" stroke-width="0.6"/>
<line x1="432.5" y1="204.8" x2="433.8" y2="204.8" stroke="#888" stroke-width="0.6"/>
<line x1="432.5" y1="202.0" x2="433.8" y2="202.0" stroke="#888" stroke-width="0.6"/>
<line x1="432.5" y1="199.1" x2="433.8" y2="199.1" stroke="#888" stroke-width="0.6"/>
<line x1="432.5" y1="196.3" x2="433.8" y2="196.3" stroke="#888" stroke-width="0.6"/>
<text x="429.4" y="268.3" font-family="Liberation Sans, sans-serif" font-size="3.8" font-weight="bold" text-anchor="end" fill="#333">0</text>
<line x1="430.8" y1="267.0" x2="433.8" y2="267.0" stroke="#666" stroke-width="0.9"/>
<text x="429.4" y="254.2" font-family="Liberation Sans, sans-serif" font-size="3.8" font-weight="bold" text-anchor="end" fill="#333">20</text>
<line x1="430.8" y1="252.9" x2="433.8" y2="252.9" stroke="#666" stroke-width="0.9"/>
<text x="429.4" y="240.0" font-family="Liberation Sans, sans-serif" font-size="3.8" font-weight="bold" text-anchor="end" fill="#333">40</text>
<line x1="430.8" y1="238.7" x2="433.8" y2="238.7" stroke="#666" stroke-width="0.9"/>
<text x="429.4" y="225.9" font-family="Liberation Sans, sans-serif" font-size="3.8" font-weight="bold" text-anchor="end" fill="#333">60</text>
<line x1="430.8" y1="224.6" x2="433.8" y2="224.6" stroke="#666" stroke-width="0.9"/>
<text x="429.4" y="211.7" font-family="Liberation Sans, sans-serif" font-size="3.8" font-weight="bold" text-anchor="end" fill="#333">80</text>
<line x1="430.8" y1="210.4" x2="433.8" y2="210.4" stroke="#666" stroke-width="0.9"/>
<text x="429.4" y="197.6" font-family="Liberation Sans, sans-serif" font-size="3.8" font-weight="bold" text-anchor="end" fill="#333">100</text>
<line x1="430.8" y1="196.3" x2="433.8" y2="196.3" stroke="#666" stroke-width="0.9"/>
<line x1="433.8" y1="267" x2="433.8" y2="268.5" stroke="#666" stroke-width="0.8"/>
<text x="433.5" y="273.0" font-family="Liberation Sans, sans-serif" font-size="3.9" text-anchor="middle" fill="#444">10</text>
<text x="435.4" y="271.2" font-family="Liberation Sans, sans-serif" font-size="2.8" fill="#555">0</text>
<line x1="452.9" y1="267" x2="452.9" y2="268.5" stroke="#666" stroke-width="0.8"/>
<text x="452.6" y="273.0" font-family="Liberation Sans, sans-serif" font-size="3.9" text-anchor="middle" fill="#444">10</text>
<text x="454.5" y="271.2" font-family="Liberation Sans, sans-serif" font-size="2.8" fill="#555">1</text>
<line x1="472.1" y1="267" x2="472.1" y2="268.5" stroke="#666" stroke-width="0.8"/>
<text x="471.8" y="273.0" font-family="Liberation Sans, sans-serif" font-size="3.9" text-anchor="middle" fill="#444">10</text>
<text x="473.7" y="271.2" font-family="Liberation Sans, sans-serif" font-size="2.8" fill="#555">2</text>
<line x1="491.2" y1="267" x2="491.2" y2="268.5" stroke="#666" stroke-width="0.8"/>
<text x="490.9" y="273.0" font-family="Liberation Sans, sans-serif" font-size="3.9" text-anchor="middle" fill="#444">10</text>
<text x="492.8" y="271.2" font-family="Liberation Sans, sans-serif" font-size="2.8" fill="#555">3</text>
<line x1="510.3" y1="267" x2="510.3" y2="268.5" stroke="#666" stroke-width="0.8"/>
<text x="510.0" y="273.0" font-family="Liberation Sans, sans-serif" font-size="3.9" text-anchor="middle" fill="#444">10</text>
<text x="511.9" y="271.2" font-family="Liberation Sans, sans-serif" font-size="2.8" fill="#555">4</text>
<text x="469.1" y="277.4" font-family="Liberation Sans, sans-serif" font-size="3.6" text-anchor="middle" fill="#555">FL2-H :: pSTAT</text>
<text x="0" y="0" transform="translate(422.6,231.2) rotate(-90)" font-family="Liberation Sans, sans-serif" font-size="3.6" text-anchor="middle" fill="#666">% of Max</text>
<polyline points="434.2,266.6 445.0,266.2 450.9,264.0 455.0,263.0 458.4,259.7 461.2,251.9 462.2,240.0 463.4,235.0 464.9,224.0 465.8,210.0 465.9,204.2 466.9,201.1 468.5,205.0 469.4,210.0 470.5,225.0 472.2,238.0 474.0,246.0 475.8,257.5 478.0,263.7 480.8,266.6 510.3,266.6" fill="none" stroke="#111" stroke-width="1.7" stroke-linejoin="round"/>
<polyline points="456.0,265.5 459.5,263.7 463.4,259.2 465.7,248.5 466.8,235.0 467.9,225.0 468.5,215.0 469.5,207.0 470.3,202.0 471.2,201.1 472.4,210.0 473.5,225.0 475.0,240.0 476.5,250.0 478.5,258.0 479.7,262.5 482.0,266.6" fill="none" stroke="#000" stroke-width="1.5" stroke-dasharray="1.1 1.1"/>
<polyline points="434.2,222.0 434.2,264.3 437.5,263.5 440.4,262.8 442.5,263.5 445.1,264.5 449.0,265.0 451.8,264.0 453.7,260.2 454.7,253.5 456.1,244.0 457.2,234.0 458.3,224.0 459.2,210.0 459.8,205.2 461.3,201.7 462.5,203.0 463.5,201.0 464.4,202.2 466.0,210.0 467.5,225.0 468.0,235.0 469.0,248.5 470.7,258.6 473.0,264.8 475.0,266.5" fill="none" stroke="#000" stroke-width="1.7" stroke-dasharray="3.2 2.0" stroke-linejoin="round"/>
<text stroke="#111" stroke-width="0.22" x="445.6" y="290.6" font-family="Liberation Sans, sans-serif" font-size="9.3" fill="#111">pSTAT5</text>
<line x1="434.1" y1="222" x2="434.1" y2="264.5" stroke="#000" stroke-width="1.8" stroke-dasharray="4 2"/>
<line x1="224.8" y1="203.4" x2="237.7" y2="203.4" stroke="#000" stroke-width="3.0"/>
<line x1="247.9" y1="203.4" x2="260.1" y2="203.4" stroke="#000" stroke-width="3.0"/>
<rect x="229.4" y="219.1" width="3.0" height="3.0" fill="#000"/>
<rect x="235.9" y="219.1" width="3.0" height="3.0" fill="#000"/>
<rect x="242.7" y="219.1" width="3.0" height="3.0" fill="#000"/>
<rect x="249.1" y="219.1" width="3.0" height="3.0" fill="#000"/>
<line x1="228.9" y1="238.5" x2="255.7" y2="238.5" stroke="#333" stroke-width="2.6"/>
<rect x="228.9" y="251.6" width="27" height="12.4" fill="#bdbdbd" stroke="#888" stroke-width="0.9"/>
<text stroke="#111" stroke-width="0.22" x="265.6" y="206.6" font-family="Liberation Sans, sans-serif" font-size="8.5" fill="#111">IL-21</text>
<text stroke="#111" stroke-width="0.22" x="265.6" y="223.6" font-family="Liberation Sans, sans-serif" font-size="8.5" fill="#111">IL-15</text>
<text stroke="#111" stroke-width="0.22" x="265.6" y="241.6" font-family="Liberation Sans, sans-serif" font-size="8.5" fill="#111">IL-2</text>
<text stroke="#111" stroke-width="0.22" x="265.6" y="262.7" font-family="Liberation Sans, sans-serif" font-size="8.5" fill="#111">Medium</text>
</svg>
</body></html>
